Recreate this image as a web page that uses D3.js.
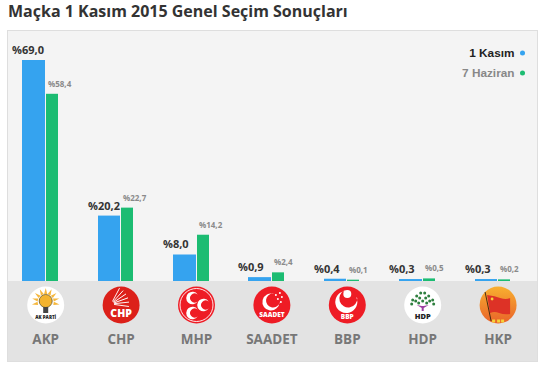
<!DOCTYPE html>
<html>
<head>
<meta charset="utf-8">
<script src="https://cdn.jsdelivr.net/npm/d3@7"></script>
<style>
  html, body { margin: 0; padding: 0; background: #fff; }
  svg { display: block; }
  text { font-family: "Open Sans", sans-serif; }
</style>
</head>
<body>
<svg id="chart"></svg>
<script>
let svgWidth = 542;
let svgHeight = 366;

const titleText = "Maçka 1 Kasım 2015 Genel Seçim Sonuçları";
const parties = ["AKP", "CHP", "MHP", "SAADET", "BBP", "HDP", "HKP"];
const kasim = [69.0, 20.2, 8.0, 0.9, 0.4, 0.3, 0.3];
const haziran = [58.4, 22.7, 14.2, 2.4, 0.1, 0.5, 0.2];
const seriesNames = ["1 Kasım", "7 Haziran"];

const blue = "#35a3ef";
const green = "#1cbc72";
const fmt = v => "%" + v.toFixed(1).replace(".", ",");

let svg = d3.select("#chart").attr("width", svgWidth).attr("height", svgHeight);

// ============================================================
// Panel
// ============================================================
svg.append("rect").attr("x", 7.5).attr("y", 30.5).attr("width", 530).attr("height", 331)
  .attr("fill", "#f4f4f4").attr("stroke", "#dedede");
svg.append("rect").attr("x", 8).attr("y", 281).attr("width", 529).attr("height", 80)
  .attr("fill", "#e3e3e3");

svg.append("text").attr("x", 8).attr("y", 16.5)
  .style("font-size", "16px").style("font-weight", 700).attr("fill", "#333")
  .text(titleText);

// ============================================================
// Scales
// ============================================================
let xScale = d3.scaleBand().domain(parties).range([8, 535.8]);
let yScale = d3.scaleLinear().domain([0, 69]).range([280, 60]);
const baseline = 281;
const centre = p => xScale(p) + xScale.bandwidth() / 2;
const blueX = p => Math.round(centre(p) - 23.4);
const greenX = p => Math.round(centre(p) + 0.1);

// ============================================================
// Bars and value labels
// ============================================================
let groups = svg.selectAll(".party").data(parties).enter().append("g").attr("class", "party");

groups.append("rect")
  .attr("x", blueX)
  .attr("y", (d, i) => yScale(kasim[i]))
  .attr("width", d => greenX(d) - blueX(d) - 1)
  .attr("height", (d, i) => baseline - yScale(kasim[i]))
  .attr("fill", blue);

groups.append("rect")
  .attr("x", greenX)
  .attr("y", (d, i) => yScale(haziran[i]))
  .attr("width", 12)
  .attr("height", (d, i) => baseline - yScale(haziran[i]))
  .attr("fill", green);

groups.append("text")
  .attr("x", d => blueX(d) - 10)
  .attr("y", (d, i) => yScale(kasim[i]) - 6)
  .style("font-size", "11px").style("font-weight", 700).attr("fill", "#333")
  .text((d, i) => fmt(kasim[i]));

groups.append("text")
  .attr("x", d => greenX(d) + 2)
  .attr("y", (d, i) => yScale(haziran[i]) - 7)
  .style("font-size", "8px").style("font-weight", 700).attr("fill", "#8a8a8a")
  .text((d, i) => fmt(haziran[i]));

// ============================================================
// Party names through an axis
// ============================================================
let axis = svg.append("g").attr("transform", "translate(0, 344)")
  .call(d3.axisBottom(xScale).tickSize(0).tickPadding(0));
axis.select(".domain").remove();
axis.selectAll("text")
  .attr("y", 0).attr("dy", 0)
  .style("font-family", '"Open Sans", sans-serif')
  .style("font-size", "13.5px").style("font-weight", 700).attr("fill", "#777");

// ============================================================
// Legend
// ============================================================
let legend = svg.selectAll(".legendItem").data(seriesNames).enter().append("g").attr("class", "legendItem");
legend.append("text")
  .attr("x", 514.5).attr("y", (d, i) => 57 + i * 20)
  .attr("text-anchor", "end")
  .style("font-family", '"Liberation Sans", sans-serif')
  .style("font-size", "11.8px").style("font-weight", 700)
  .attr("fill", (d, i) => i ? "#888" : "#222")
  .text(d => d);
legend.append("circle")
  .attr("cx", 522.5).attr("cy", (d, i) => 53 + i * 20).attr("r", 2.5)
  .attr("fill", (d, i) => i ? green : blue);

// ============================================================
// Party logos, each drawn around its own centre
// ============================================================
let hkpFill = svg.append("defs").append("linearGradient").attr("id", "hkpFill")
  .attr("x1", 0).attr("y1", 0).attr("x2", 0).attr("y2", 1);
hkpFill.append("stop").attr("offset", 0).attr("stop-color", "#f8b02f");
hkpFill.append("stop").attr("offset", 1).attr("stop-color", "#e9622a");

const crescent = (r, r2, dx) => {
  let g = d3.path();
  g.arc(0, 0, r, 0.6, Math.PI * 2 - 0.6);
  g.arc(dx, 0, r2, -1.0, 1.0, true);
  g.closePath();
  return g.toString();
};

function logoText(g, s, y, size, fill) {
  g.append("text").attr("y", y).attr("text-anchor", "middle")
    .style("font-size", size + "px").style("font-weight", 800).attr("fill", fill).text(s);
}

const logos = {
  AKP(g) {
    g.append("circle").attr("r", 18.5).attr("fill", "#fff");
    d3.range(9).forEach(i => g.append("path").attr("d", "M-1.6,-8 L0,-14 L1.6,-8Z")
      .attr("fill", "#f6b73c").attr("transform", `translate(0,-3)rotate(${-100 + i * 25})`));
    g.append("circle").attr("cy", -4).attr("r", 6.5).attr("fill", "#f3b32e").attr("stroke", "#6b5a2a").attr("stroke-width", 0.8);
    g.append("rect").attr("x", -2.5).attr("y", 2).attr("width", 5).attr("height", 6).attr("fill", "#444");
    logoText(g, "AK PARTİ", 14, 4.5, "#222");
  },
  CHP(g) {
    g.append("circle").attr("r", 18.5).attr("fill", "#dc2019");
    [-62, -48, -34, -20, -6, 8].forEach(a => g.append("line")
      .attr("x1", 3).attr("x2", 18).attr("stroke", "#fff").attr("stroke-width", 0.9)
      .attr("transform", `translate(-10,-1)rotate(${a})`));
    logoText(g, "CHP", 12, 10.5, "#fff");
  },
  MHP(g) {
    g.append("circle").attr("r", 18.5).attr("fill", "#ee1c25");
    g.append("circle").attr("r", 16.5).attr("fill", "none").attr("stroke", "#fff").attr("stroke-width", 0.9);
    [[-4, -7], [-4, 8], [7, 0]].forEach(p => g.append("path")
      .attr("d", crescent(6.3, 4.6, 2.2)).attr("fill", "#fff")
      .attr("transform", `translate(${p[0]},${p[1]})`));
  },
  SAADET(g) {
    g.append("circle").attr("r", 18.5).attr("fill", "#ee1c25");
    g.append("path").attr("d", crescent(8.5, 7, 2.6)).attr("fill", "#fff")
      .attr("transform", "translate(-1,-3)rotate(-35)");
    [[4, -10], [8, -12], [10, -8], [6, -6], [9, -3]].forEach(p => g.append("circle")
      .attr("cx", p[0]).attr("cy", p[1]).attr("r", 1).attr("fill", "#fff"));
    logoText(g, "SAADET", 12, 6.5, "#fff");
  },
  BBP(g) {
    g.append("circle").attr("r", 18.5).attr("fill", "#ee1c25");
    g.append("path").attr("d", crescent(11, 9, 4)).attr("fill", "#fff")
      .attr("transform", "translate(-1,-3)rotate(-60)");
    g.append("circle").attr("cx", 0).attr("cy", -11).attr("r", 4).attr("fill", "#fff");
    logoText(g, "BBP", 14, 6.5, "#fff");
  },
  HDP(g) {
    g.append("circle").attr("r", 18.5).attr("fill", "#fff");
    [[-10, -5], [-6, -9], [-2, -12], [2, -12], [6, -9], [10, -5], [-7, -4], [-3, -7], [0, -4], [3, -7], [7, -4], [-11, -1], [11, -1], [-4, -2], [4, -2]]
      .forEach(p => g.append("circle").attr("cx", p[0]).attr("cy", p[1]).attr("r", 1.5)
        .attr("fill", "#2d7f3e"));
    g.append("path").attr("d", "M-6,0 L-1,3 L-1,6 L1,6 L1,3 L6,0 L1,1 L-1,1Z").attr("fill", "#9c3fa0");
    logoText(g, "HDP", 14, 7.5, "#222");
  },
  HKP(g) {
    g.append("circle").attr("r", 18.5).attr("fill", "url(#hkpFill)");
    g.append("path").attr("d", "M-11,-10 Q-3,-9 2,-7 Q8,-5 12,-7 L12,9 Q6,10 1,8 Q-4,6 -8,8Z").attr("fill", "#dd3226");
    g.append("line").attr("x1", -13).attr("y1", -13).attr("x2", -7).attr("y2", 16)
      .attr("stroke", "#4a2a12").attr("stroke-width", 1);
    g.append("circle").attr("cx", -6).attr("cy", -6).attr("r", 1.4).attr("fill", "#f5d33a");
    [-6, -1, 3].forEach(x => g.append("rect").attr("x", x).attr("y", 14.5).attr("width", 3).attr("height", 3).attr("fill", "#f5d33a"));
  }
};

parties.forEach(p => {
  let g = svg.append("g").attr("transform", `translate(${centre(p)}, 305)`);
  logos[p](g);
});
</script>
</body>
</html>
